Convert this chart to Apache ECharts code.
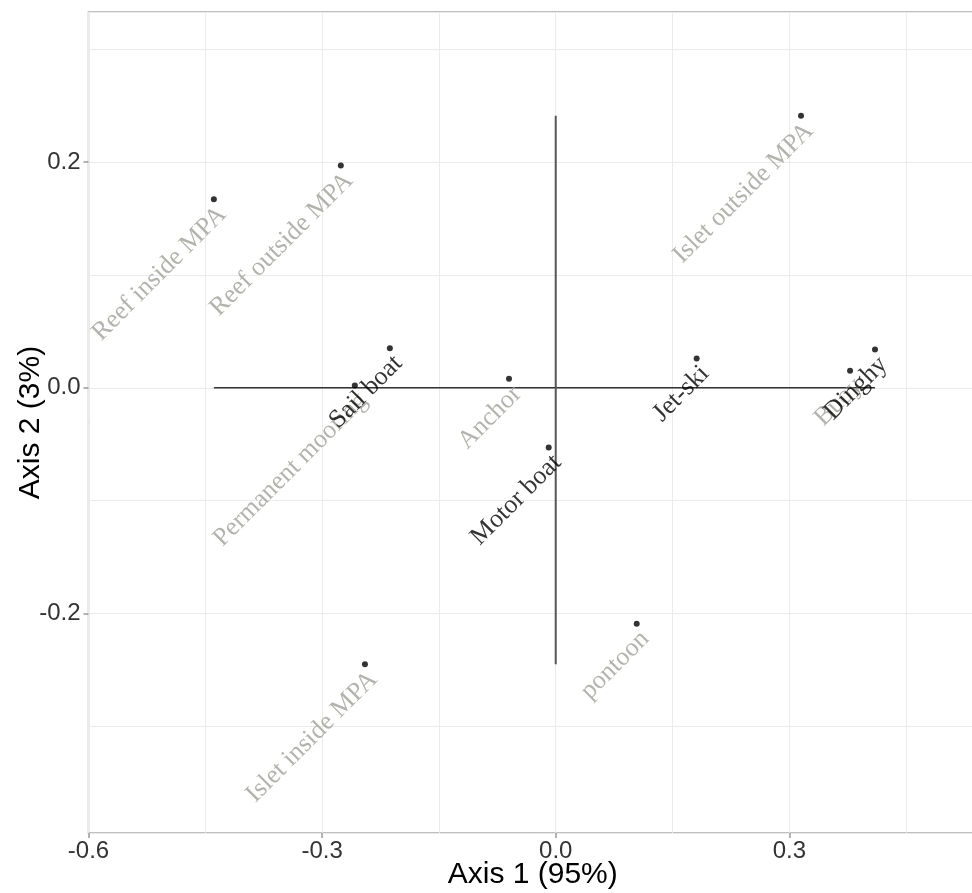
<!DOCTYPE html>
<html><head><meta charset="utf-8">
<script src="https://cdn.jsdelivr.net/npm/echarts@6/dist/echarts.min.js"></script>
<style>html,body{margin:0;padding:0;background:#fff}#c{width:972px;height:893px}</style>
</head><body><div id="c"></div>
<script>
// Site / mooring categories (grey labels)
const siteNames = ['Reef inside MPA','Reef outside MPA','Permanent mooring','Anchor','Buoy','Islet outside MPA','Islet inside MPA','pontoon'];
const siteX = [-0.439,-0.276,-0.258,-0.060,0.378,0.315,-0.245,0.104];
const siteY = [0.167,0.197,0.002,0.008,0.015,0.241,-0.245,-0.209];
// Boat types (black labels)
const boatNames = ['Sail boat','Motor boat','Jet-ski','Dinghy'];
const boatX = [-0.213,-0.009,0.181,0.410];
const boatY = [0.035,-0.053,0.026,0.034];
// Tick labels
const xTicks = [-0.6,-0.3,0.0,0.3];
const yTicks = [-0.2,0.0,0.2];
const xTitle = 'Axis 1 (95%)';
const yTitle = 'Axis 2 (3%)';

const allX = siteX.concat(boatX), allY = siteY.concat(boatY);
const xMin = -0.6, xMax = 0.541, yMin = -0.3945, yMax = 0.333;

const chart = echarts.init(document.getElementById('c'), null, {renderer:'canvas'});
const fmt = v => { const m = xTicks.concat(yTicks).some(t => Math.abs(t - v) < 1e-6); return m ? (Math.abs(v) < 1e-9 ? '0.0' : v.toFixed(1)) : ''; };
const labelBase = {show:true, rotate:45, align:'right', verticalAlign:'top', offset:[-2,1], fontSize:26, fontFamily:'Liberation Serif, Times New Roman, serif', formatter:p=>p.data[2]};
const gridLine = {show:true, lineStyle:{color:'#ebebeb', width:1}};
const tickLabel = {fontSize:24, color:'#333', fontFamily:'Liberation Sans, Arial, sans-serif'};
const titleStyle = {fontSize:30, color:'#000', fontFamily:'Liberation Sans, Arial, sans-serif'};

chart.setOption({
  animation:false,
  backgroundColor:'#fff',
  grid:{left:88.5, right:-5, top:12, bottom:60, containLabel:false, outerBoundsMode:'none', show:true, borderColor:'#ababab', borderWidth:1.5, backgroundColor:'transparent'},
  xAxis:[
    {type:'value', min:xMin, max:xMax, interval:0.15, splitLine:gridLine, axisLine:{show:false, onZero:false}, axisTick:{show:false}, axisLabel:{show:false}},
    {type:'value', min:xMin, max:xMax, position:'bottom', splitLine:{show:false}, axisLine:{show:false, onZero:false},
     axisTick:{show:true, length:5, customValues:xTicks, lineStyle:{color:'#999', width:1.5}},
     axisLabel:Object.assign({customValues:xTicks, formatter:fmt, margin:6}, tickLabel),
     name:xTitle, nameLocation:'middle', nameGap:27, nameMoveOverlap:false, nameTextStyle:titleStyle}
  ],
  yAxis:[
    {type:'value', min:yMin, max:yMax, splitNumber:7, splitLine:gridLine, axisLine:{show:false, onZero:false}, axisTick:{show:false}, axisLabel:{show:false}},
    {type:'value', min:yMin, max:yMax, position:'left', splitLine:{show:false}, axisLine:{show:false, onZero:false},
     axisTick:{show:true, length:5, customValues:yTicks, lineStyle:{color:'#999', width:1.5}},
     axisLabel:Object.assign({customValues:yTicks, formatter:fmt, margin:8}, tickLabel),
     name:yTitle, nameLocation:'middle', nameGap:43, nameMoveOverlap:false, nameTextStyle:titleStyle}
  ],
  series:[
    {type:'line', xAxisIndex:0, yAxisIndex:0, symbol:'none', silent:true, z:1,
     data:[[Math.min(...allX),0],[Math.max(...allX),0]], lineStyle:{color:'#333', width:1.5}},
    {type:'line', xAxisIndex:0, yAxisIndex:0, symbol:'none', silent:true, z:1,
     data:[[0,Math.min(...allY)],[0,Math.max(...allY)]], lineStyle:{color:'#555', width:2}},
    {type:'scatter', xAxisIndex:0, yAxisIndex:0, symbol:'circle', symbolSize:6, z:3,
     itemStyle:{color:'#000'},
     data:siteX.map((x,i)=>[x, siteY[i], siteNames[i]]),
     label:Object.assign({color:'#a0a09a'}, labelBase)},
    {type:'scatter', xAxisIndex:0, yAxisIndex:0, symbol:'circle', symbolSize:6, z:4,
     itemStyle:{color:'#000'},
     data:boatX.map((x,i)=>[x, boatY[i], boatNames[i]]),
     label:Object.assign({color:'#000'}, labelBase)}
  ]
});
</script></body></html>
